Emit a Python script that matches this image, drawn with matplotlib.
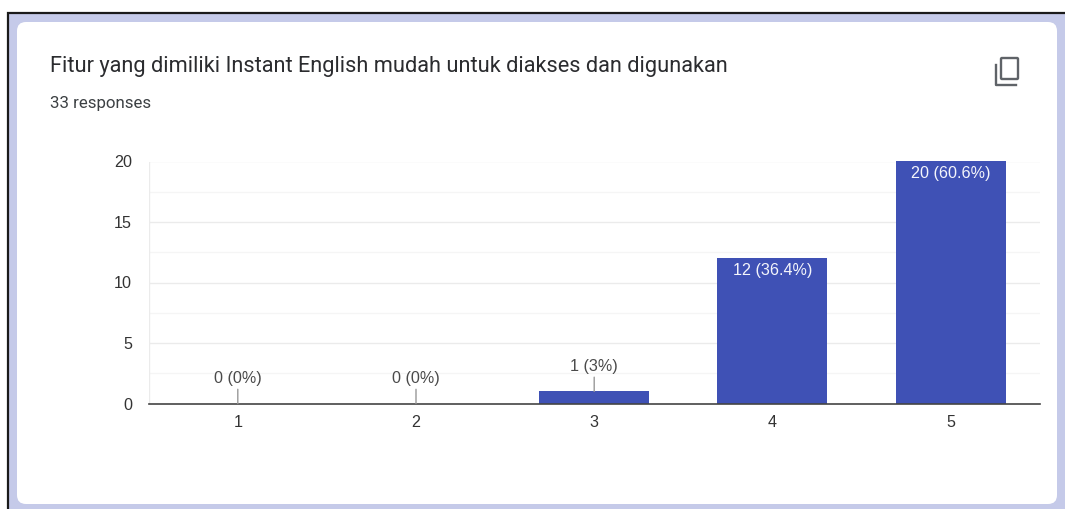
import matplotlib
matplotlib.use("Agg")
import matplotlib.pyplot as plt
from matplotlib.patches import FancyBboxPatch, Rectangle

title = "Fitur yang dimiliki Instant English mudah untuk diakses dan digunakan"
subtitle = "33 responses"
categories = ["1", "2", "3", "4", "5"]
counts = [0, 0, 1, 12, 20]
value_labels = ["0 (0%)", "0 (0%)", "1 (3%)", "12 (36.4%)", "20 (60.6%)"]
y_ticks = [0, 5, 10, 15, 20]
y_minor = [2.5, 7.5, 12.5, 17.5]

W, H = 1065, 509
fig = plt.figure(figsize=(W / 100, H / 100), dpi=100, facecolor="white")

bg = fig.add_axes([0, 0, 1, 1], zorder=0)
bg.set_xlim(0, W)
bg.set_ylim(H, 0)
bg.axis("off")
bg.add_patch(Rectangle((7.5, 12.5), W, H, facecolor="#c5cae9", edgecolor="#1a1a1a", linewidth=1.6))
bg.add_patch(FancyBboxPatch((25, 30), 1024, 466, boxstyle="round,pad=8,rounding_size=9",
                            facecolor="white", edgecolor="none"))
bg.text(49.5, 66, title, family="Roboto", fontsize=15.7, color="#2b2c2f", va="center", ha="left")
bg.text(49.5, 103.5, subtitle, family="Roboto", fontsize=12.2, color="#3c4043", va="center", ha="left")

# copy icon
icon = "#5f6368"
bg.add_patch(FancyBboxPatch((1001, 58), 17, 21, boxstyle="round,pad=0,rounding_size=1",
                            facecolor="none", edgecolor=icon, linewidth=1.7))
bg.plot([996, 996, 1016], [65, 84.5, 84.5], color=icon, linewidth=1.7, solid_joinstyle="round")

L, R, T, B = 148.7, 1039.7, 161.5, 403.5
ax = fig.add_axes([L / W, 1 - B / H, (R - L) / W, (B - T) / H], zorder=1)
ax.patch.set_alpha(0)
x = list(range(len(categories)))
ax.set_xlim(-0.5, 4.5)
ax.set_ylim(0, 20)

for v in y_ticks[1:]:
    ax.axhline(v, color="#ebebeb", linewidth=1, zorder=1)
for v in y_minor:
    ax.axhline(v, color="#f5f5f5", linewidth=1, zorder=1)
ax.axvline(-0.5, color="#ebebeb", linewidth=1, zorder=1)

ax.bar(x, counts, width=0.618, color="#3f51b5", zorder=2, clip_on=False)

for s in ["top", "right", "left"]:
    ax.spines[s].set_visible(False)
ax.spines["bottom"].set_color("#444444")
ax.spines["bottom"].set_linewidth(1.2)
ax.spines["bottom"].set_zorder(3)

ax.set_xticks(x, categories)
ax.set_yticks(y_ticks)
ax.tick_params(length=0, labelsize=11.6, labelcolor="#333333", pad=8)
ax.tick_params(axis="y", pad=12)
for t in ax.get_xticklabels() + ax.get_yticklabels():
    t.set_family("Liberation Sans")

for xi, c, lab in zip(x, counts, value_labels):
    if c >= 5:
        ax.annotate(lab, (xi, c), xytext=(0, -5), textcoords="offset pixels", ha="center", va="top",
                    family="Liberation Sans", fontsize=11.6, color="#f4f5fb", zorder=4)
    else:
        ax.annotate(lab, (xi, c), xytext=(0, 17), textcoords="offset pixels", ha="center", va="bottom",
                    family="Liberation Sans", fontsize=11.6, color="#4a4a4a", zorder=4,
                    arrowprops=dict(arrowstyle="-", color="#999999", linewidth=1, shrinkA=0, shrinkB=0))

fig.savefig("out.png", dpi=100)
